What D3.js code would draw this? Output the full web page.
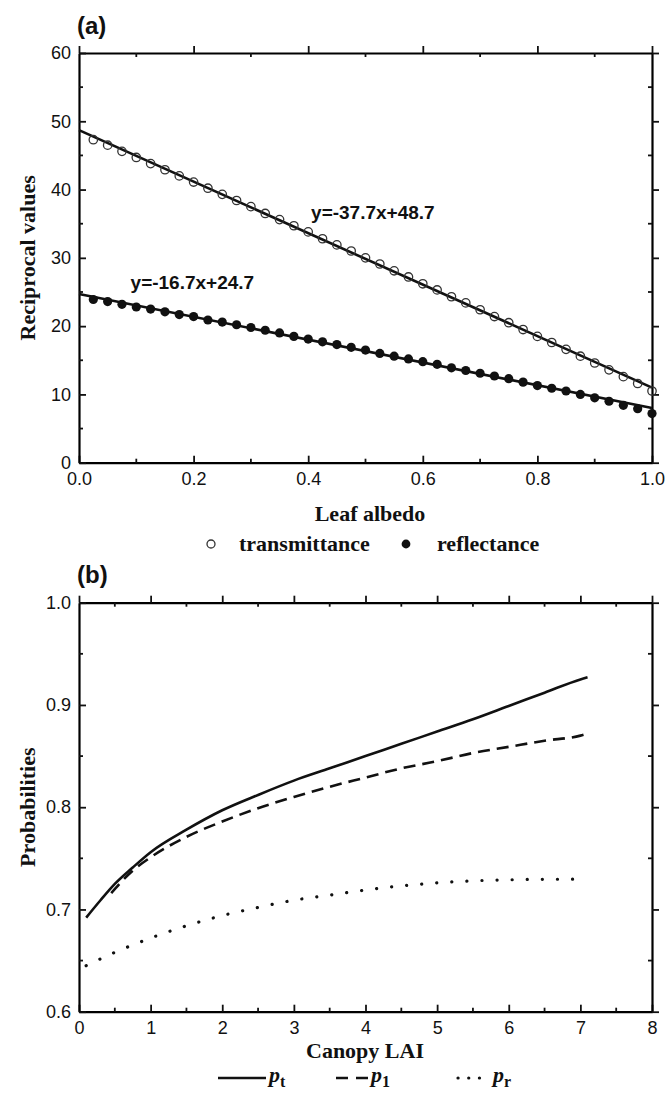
<!DOCTYPE html>
<html>
<head>
<meta charset="utf-8">
<script src="https://cdn.jsdelivr.net/npm/d3@7"></script>
<style>
  body { margin: 0; background: #fff; }
  svg { display: block; }
  .tick text { font-family: "Liberation Sans", Arial, sans-serif; font-size: 18px; fill: #111; }
  .title { font-family: "Liberation Serif", "Times New Roman", serif; font-weight: bold; font-size: 22px; fill: #111; }
  .panel { font-family: "Liberation Sans", Arial, sans-serif; font-weight: bold; font-size: 24px; fill: #111; }
  .eq { font-family: "Liberation Sans", Arial, sans-serif; font-weight: bold; font-size: 19px; fill: #111; }
</style>
</head>
<body>
<svg id="chart" width="666" height="1093"></svg>
<script>
// panel (a) data
const albedo = [0.025, 0.05, 0.075, 0.1, 0.125, 0.15, 0.175, 0.2, 0.225, 0.25,
  0.275, 0.3, 0.325, 0.35, 0.375, 0.4, 0.425, 0.45, 0.475, 0.5,
  0.525, 0.55, 0.575, 0.6, 0.625, 0.65, 0.675, 0.7, 0.725, 0.75,
  0.775, 0.8, 0.825, 0.85, 0.875, 0.9, 0.925, 0.95, 0.975, 1.0];
const transmittance = [47.3, 46.5, 45.6, 44.7, 43.8, 42.9, 42.0, 41.1, 40.2, 39.3,
  38.4, 37.5, 36.5, 35.6, 34.7, 33.8, 32.8, 31.9, 31.0, 30.0,
  29.1, 28.1, 27.2, 26.2, 25.3, 24.3, 23.4, 22.4, 21.4, 20.5,
  19.5, 18.5, 17.6, 16.6, 15.6, 14.6, 13.6, 12.6, 11.6, 10.5];
const reflectance = [23.9, 23.6, 23.2, 22.8, 22.5, 22.1, 21.7, 21.4, 20.9, 20.6,
  20.2, 19.8, 19.4, 19.0, 18.5, 18.1, 17.7, 17.3, 16.9, 16.5,
  16.0, 15.6, 15.2, 14.8, 14.4, 13.9, 13.5, 13.1, 12.7, 12.3,
  11.8, 11.3, 10.9, 10.5, 10.0, 9.5, 9.0, 8.4, 7.9, 7.2];
// fitted lines, end points
const fitX = [0, 1];
const transFit = [48.7, 11.0];
const reflFit = [24.7, 8.0];
const transEq = "y=-37.7x+48.7";
const reflEq = "y=-16.7x+24.7";

// panel (b) data
const laiT = [0.1, 0.3, 0.5, 0.75, 1.0, 1.5, 2.0, 2.5, 3.0, 3.5, 4.0, 4.5, 5.0, 5.5, 6.0, 6.5, 7.0, 7.1];
const pt = [0.692, 0.709, 0.725, 0.741, 0.756, 0.778, 0.797, 0.812, 0.826, 0.838, 0.850, 0.862, 0.874, 0.886, 0.899, 0.912, 0.925, 0.927];
const laiS = [0.45, 0.75, 1.0, 1.5, 2.0, 2.5, 3.0, 3.5, 4.0, 4.5, 5.0, 5.5, 6.0, 6.5, 7.0, 7.1];
const p1 = [0.716, 0.738, 0.751, 0.771, 0.786, 0.799, 0.810, 0.820, 0.829, 0.838, 0.845, 0.853, 0.859, 0.865, 0.870, 0.872];
const laiR = [0.1, 0.5, 1.0, 1.5, 2.0, 2.5, 3.0, 3.5, 4.0, 4.5, 5.0, 5.5, 6.0, 6.5, 7.0, 7.1];
const pr = [0.645, 0.658, 0.672, 0.684, 0.694, 0.702, 0.709, 0.714, 0.719, 0.723, 0.726, 0.728, 0.729, 0.7295, 0.7296, 0.7296];

const xTicksA = [0, 0.2, 0.4, 0.6, 0.8, 1.0];
const yTicksA = [0, 10, 20, 30, 40, 50, 60];
const xTicksB = [0, 1, 2, 3, 4, 5, 6, 7, 8];
const yTicksB = [0.6, 0.7, 0.8, 0.9, 1.0];

const svg = d3.select("#chart");

// draws the frame with inward ticks on all four sides
function frame(g, x, y, xMajor, xMinor, yMajor, yMinor, xFmt, yFmt) {
  const [x0, x1] = x.range();
  const [y0, y1] = y.range();
  const axes = [
    [d3.axisBottom(x).tickValues(xMajor).tickFormat(xFmt), y0, true],
    [d3.axisTop(x).tickValues(xMajor).tickFormat(""), y1, false],
  ];
  axes.forEach(([ax, pos, lab]) => {
    const a = g.append("g").attr("transform", `translate(0,${pos})`).call(ax.tickSizeInner(lab ? -7 : 7).tickSizeOuter(0).tickPadding(10));
    a.select(".domain").attr("stroke-width", 2.2);
  });
  const yaxes = [
    [d3.axisLeft(y).tickValues(yMajor).tickFormat(yFmt), x0, true],
    [d3.axisRight(y).tickValues(yMajor).tickFormat(""), x1, false],
  ];
  yaxes.forEach(([ax, pos, lab]) => {
    const a = g.append("g").attr("transform", `translate(${pos},0)`).call(ax.tickSizeInner(lab ? -7 : 7).tickSizeOuter(0).tickPadding(8));
    a.select(".domain").attr("stroke-width", 2.2);
  });
  // minor ticks
  const minor = g.append("g").attr("stroke", "#111").attr("stroke-width", 1.8);
  xMinor.forEach(v => {
    minor.append("line").attr("x1", x(v)).attr("x2", x(v)).attr("y1", y0).attr("y2", y0 - 4);
    minor.append("line").attr("x1", x(v)).attr("x2", x(v)).attr("y1", y1).attr("y2", y1 + 4);
  });
  yMinor.forEach(v => {
    minor.append("line").attr("x1", x0).attr("x2", x0 + 4).attr("y1", y(v)).attr("y2", y(v));
    minor.append("line").attr("x1", x1).attr("x2", x1 - 4).attr("y1", y(v)).attr("y2", y(v));
  });
  g.selectAll(".tick line").attr("stroke-width", 1.8).attr("stroke", "#111");
}

/* ---------- panel (a) ---------- */
const xa = d3.scaleLinear().domain([0, 1]).range([79, 652]);
const ya = d3.scaleLinear().domain([0, 60]).range([462.7, 53]);
const ga = svg.append("g");

frame(ga, xa, ya, xTicksA, [0.1, 0.3, 0.5, 0.7, 0.9], yTicksA, [5, 15, 25, 35, 45, 55], d3.format(".1f"), d3.format("d"));

const fitLine = d3.line().x((d, i) => xa(fitX[i])).y(d => ya(d));
ga.append("path").datum(transFit).attr("d", fitLine).attr("fill", "none").attr("stroke", "#111").attr("stroke-width", 2.6);
ga.append("path").datum(reflFit).attr("d", fitLine).attr("fill", "none").attr("stroke", "#111").attr("stroke-width", 2.6);

ga.append("g").selectAll("circle").data(transmittance).enter().append("circle")
  .attr("cx", (d, i) => xa(albedo[i])).attr("cy", d => ya(d)).attr("r", 4.2)
  .attr("fill", "none").attr("stroke", "#333").attr("stroke-width", 1.3);
ga.append("g").selectAll("circle").data(reflectance).enter().append("circle")
  .attr("cx", (d, i) => xa(albedo[i])).attr("cy", d => ya(d)).attr("r", 4.6)
  .attr("fill", "#111");

ga.append("text").attr("class", "eq").attr("x", xa(0.405)).attr("y", 219).text(transEq);
ga.append("text").attr("class", "eq").attr("x", xa(0.09)).attr("y", 289).text(reflEq);

ga.append("text").attr("class", "panel").attr("x", 77).attr("y", 34).text("(a)");
ga.append("text").attr("class", "title").attr("text-anchor", "middle")
  .attr("transform", `translate(35,${(53 + 462.7) / 2}) rotate(-90)`).text("Reciprocal values");
ga.append("text").attr("class", "title").attr("text-anchor", "middle").attr("x", 370).attr("y", 521).text("Leaf albedo");

// legend (a)
ga.append("circle").attr("cx", 211).attr("cy", 544).attr("r", 4).attr("fill", "none").attr("stroke", "#333").attr("stroke-width", 1.3);
ga.append("text").attr("class", "title").attr("x", 239).attr("y", 551).text("transmittance");
ga.append("circle").attr("cx", 406).attr("cy", 544).attr("r", 4.4).attr("fill", "#111");
ga.append("text").attr("class", "title").attr("x", 437).attr("y", 551).text("reflectance");

/* ---------- panel (b) ---------- */
const xb = d3.scaleLinear().domain([0, 8]).range([79, 652]);
const yb = d3.scaleLinear().domain([0.6, 1.0]).range([1011.7, 602.7]);
const gb = svg.append("g");

frame(gb, xb, yb, xTicksB, [0.5, 1.5, 2.5, 3.5, 4.5, 5.5, 6.5, 7.5], yTicksB, [0.65, 0.75, 0.85, 0.95], d3.format("d"), d3.format(".1f"));

const curve = xs => d3.line().curve(d3.curveMonotoneX).x((d, i) => xb(xs[i])).y(d => yb(d));
gb.append("path").datum(pt).attr("d", curve(laiT)).attr("fill", "none").attr("stroke", "#111").attr("stroke-width", 2.6);
gb.append("path").datum(p1).attr("d", curve(laiS)).attr("fill", "none").attr("stroke", "#111").attr("stroke-width", 2.6)
  .attr("stroke-dasharray", "12,7");
gb.append("path").datum(pr).attr("d", curve(laiR)).attr("fill", "none").attr("stroke", "#111").attr("stroke-width", 3.2)
  .attr("stroke-linecap", "round").attr("stroke-dasharray", "0.1,15");

gb.append("text").attr("class", "panel").attr("x", 77).attr("y", 583).text("(b)");
gb.append("text").attr("class", "title").attr("text-anchor", "middle")
  .attr("transform", `translate(35,${(602.7 + 1011.7) / 2}) rotate(-90)`).text("Probabilities");
gb.append("text").attr("class", "title").attr("text-anchor", "middle").attr("x", 365).attr("y", 1058).text("Canopy LAI");

// legend (b)
const legB = [
  { x: 218, len: 48, dash: null, w: 2.6, cap: "butt", sub: "t" },
  { x: 336, len: 32, dash: "12,8", w: 2.6, cap: "butt", sub: "1" },
  { x: 458, len: 32, dash: "0.1,10.6", w: 3.2, cap: "round", sub: "r" }
];
legB.forEach(d => {
  gb.append("line").attr("x1", d.x).attr("x2", d.x + d.len).attr("y1", 1078).attr("y2", 1078)
    .attr("stroke", "#111").attr("stroke-width", d.w).attr("stroke-linecap", d.cap)
    .attr("stroke-dasharray", d.dash);
  const t = gb.append("text").attr("class", "title").attr("x", d.x + d.len + 3).attr("y", 1082).style("font-size", "22px");
  t.append("tspan").style("font-style", "italic").text("p");
  t.append("tspan").attr("dy", 5).style("font-size", "16px").text(d.sub);
});
</script>
</body>
</html>
